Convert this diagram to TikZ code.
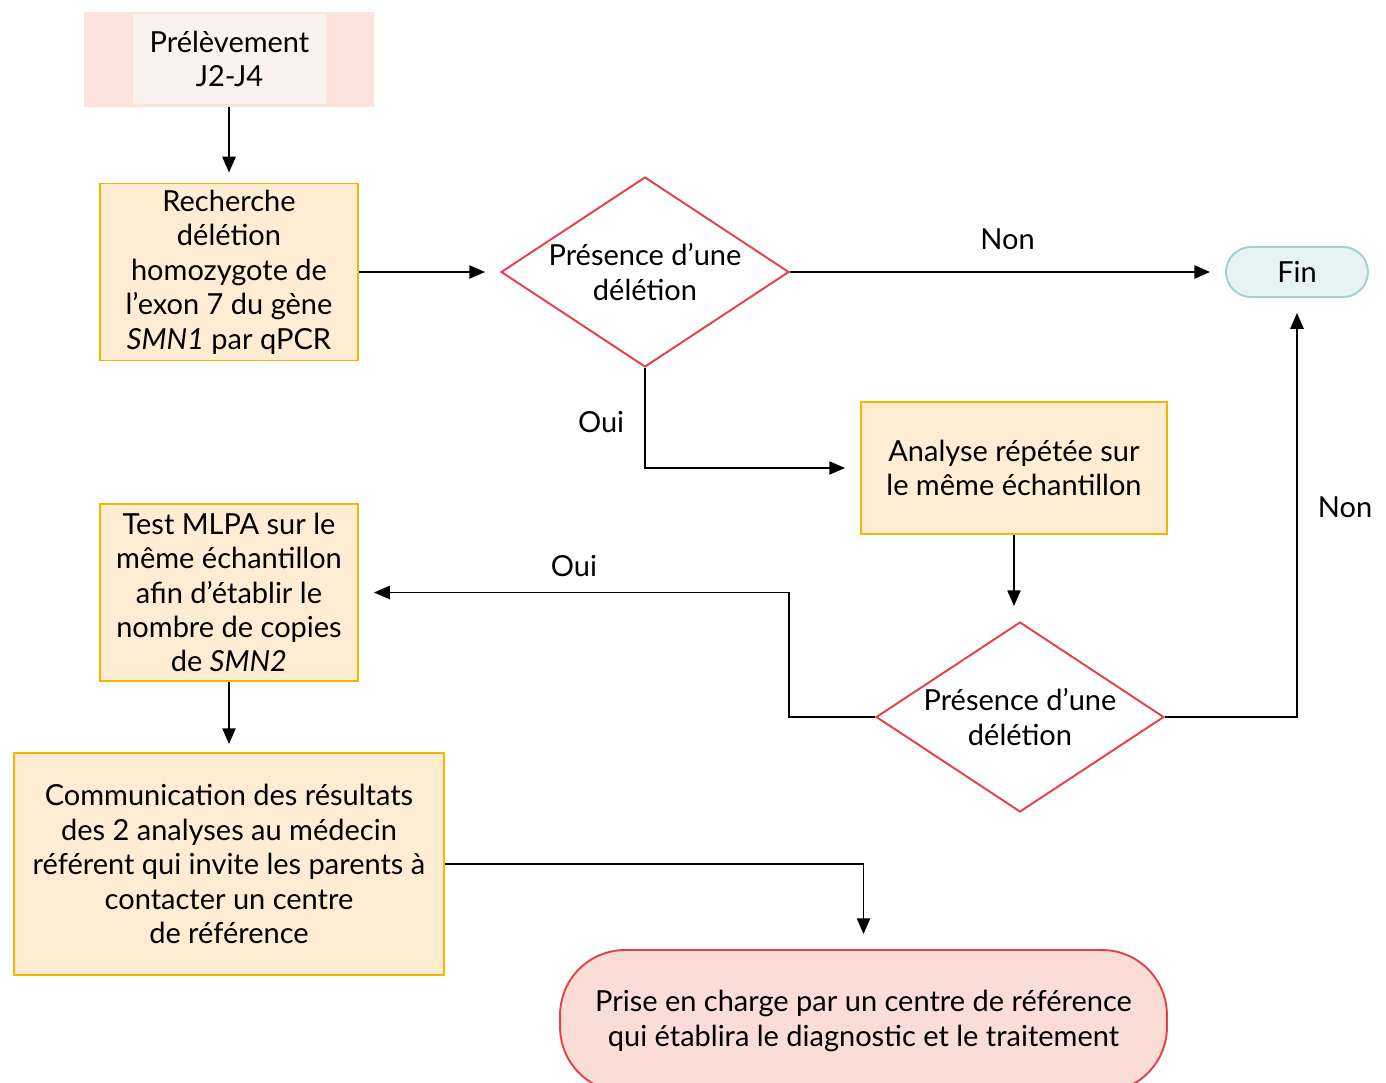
\documentclass[tikz,border=0pt]{standalone}
\usepackage{fontspec}
\setmainfont{Lato}
\usetikzlibrary{arrows.meta,shapes.geometric}

\definecolor{boxfill}{HTML}{FEEDD3}
\definecolor{boxline}{HTML}{F7B500}
\definecolor{redline}{HTML}{E5404B}
\definecolor{finfill}{HTML}{E6F3F3}
\definecolor{finline}{HTML}{9CD3CF}
\definecolor{prisefill}{HTML}{FADDD6}
\definecolor{preouter}{HTML}{FCE3DD}
\definecolor{preinner}{HTML}{FAF1F0}

\begin{document}
\begin{tikzpicture}[x=0.02cm, y=-0.02cm,
        every node/.style={font=\fontsize{16.5}{19.6}\selectfont, align=center},
        proc/.style={draw=boxline, fill=boxfill, line width=1.1pt, rectangle},
        decision/.style={draw=redline, fill=white, line width=1.1pt, diamond, inner sep=0pt,
            minimum width=5.76cm, minimum height=3.8cm},
        arr/.style={-{Triangle[length=9pt,width=7.5pt]}, line width=1.1pt, shorten >=0.3cm}]
        \useasboundingbox (0,0) rectangle (1386,1082);

        % Sampling box (two-tone background)
        \node[fill=preouter, minimum width=5.8cm, minimum height=1.9cm] (preout) at (229,59.5) {};
        \node[fill=preinner, minimum width=3.86cm, minimum height=1.8cm] (pre) at (229.5,59) {Prélèvement\\J2-J4};

        % Process boxes
        \node[proc, minimum width=5.16cm, minimum height=3.54cm] (rech) at (229,272)
            {Recherche\\délétion\\homozygote de\\l’exon 7 du gène\\\textit{SMN1} par qPCR};
        \node[proc, minimum width=6.12cm, minimum height=2.64cm] (ana) at (1014,468)
            {Analyse répétée sur\\le même échantillon};
        \node[proc, minimum width=5.16cm, minimum height=3.54cm] (mlpa) at (229,592.5)
            {Test MLPA sur le\\même échantillon\\afin d’établir le\\nombre de copies\\de \textit{SMN2}};
        \node[proc, minimum width=8.6cm, minimum height=4.44cm] (comm) at (229,864)
            {Communication des résultats\\des 2 analyses au médecin\\référent qui invite les parents à\\contacter un centre\\de référence};

        % Decisions
        \node[decision, label={[align=center]center:Présence d’une\\délétion}] (d1) at (645,272) {};
        \node[decision, label={[align=center]center:Présence d’une\\délétion}] (d2) at (1020,717) {};

        % Terminals
        \node[draw=finline, fill=finfill, line width=1.1pt, rounded corners=0.5cm,
            minimum width=2.84cm, minimum height=1cm] (fin) at (1297,272) {Fin};
        \node[draw=redline, fill=prisefill, line width=1.1pt, rounded corners=1.3cm,
            minimum width=12.14cm, minimum height=2.84cm] (prise) at (863.5,1021)
            {Prise en charge par un centre de référence\\qui établira le diagnostic et le traitement};

        % Draw arrows
        \coordinate (bend) at (789,717);
        \draw[arr, shorten >=0.2cm] (preout.south) -- (rech.north);
        \draw[arr] (rech.east) -- (d1.west);
        \draw[arr] (d1.east) -- node[above=9pt] {Non} (fin.west);
        \draw[arr] (d1.south) |- node[pos=0.27, left=8pt] {Oui} (ana.west);
        \draw[arr] (ana.south) -- (ana.south |- d2.north);
        \draw[arr] (d2.east) -| node[pos=0.75, right=8pt] {Non} (fin.south);
        \draw[arr] (d2.west) -- (bend) |- node[pos=0.75, above=5pt] {Oui} (mlpa.east);
        \draw[arr, shorten >=0.16cm] (mlpa.south) -- (comm.north);
        \draw[arr] (comm.east) -| (prise.north);
    \end{tikzpicture}
\end{document}
